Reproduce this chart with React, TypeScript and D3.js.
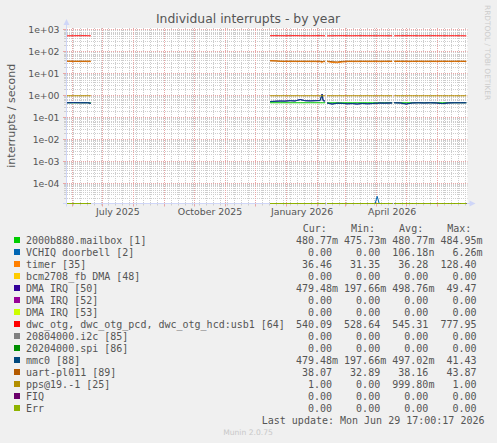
import React from "react";
import * as d3 from "d3";

const TITLE = "Individual interrupts - by year";
const Y_LABEL = "interrupts / second";
const Y_TICKS = [1e3, 1e2, 1e1, 1, 1e-1, 1e-2, 1e-3, 1e-4];
const Y_TICK_LABELS = ["1e+03", "1e+02", "1e+01", "1e+00", "1e-01", "1e-02", "1e-03", "1e-04"];
const X_LABEL_MONTHS = ["2025-07-01T00:00", "2025-10-01T00:00", "2026-01-01T00:00", "2026-04-01T00:00"];
const X_LABELS = ["July 2025", "October 2025", "January 2026", "April 2026"];
const TIME_DOMAIN = ["2025-05-26T17:00", "2026-06-30T17:00"];
const Y_DOMAIN = [1.22e-5, 1233];

const TIMES = [
  "2025-05-26T18:00", "2025-06-02T12:00", "2025-06-09T12:00", "2025-06-16T12:00", "2025-06-19T12:00",
  "2025-06-20T12:00",
  "2025-12-15T12:00", "2025-12-20T12:00", "2025-12-25T12:00", "2025-12-30T12:00", "2026-01-04T12:00",
  "2026-01-09T12:00", "2026-01-14T12:00", "2026-01-19T12:00", "2026-01-24T12:00", "2026-01-29T12:00",
  "2026-02-03T12:00", "2026-02-05T12:00", "2026-02-06T12:00", "2026-02-08T12:00",
  "2026-02-09T12:00",
  "2026-02-10T12:00", "2026-02-15T12:00", "2026-02-20T12:00", "2026-02-25T12:00", "2026-03-02T12:00",
  "2026-03-07T12:00", "2026-03-12T12:00", "2026-03-17T12:00", "2026-03-22T12:00", "2026-03-27T12:00",
  "2026-03-30T12:00", "2026-04-01T12:00", "2026-04-03T12:00", "2026-04-08T12:00", "2026-04-16T12:00",
  "2026-04-17T12:00",
  "2026-04-18T12:00", "2026-04-24T12:00", "2026-04-30T12:00", "2026-05-06T12:00", "2026-05-12T12:00",
  "2026-05-18T12:00", "2026-05-24T12:00", "2026-05-30T12:00", "2026-06-05T12:00", "2026-06-11T12:00",
  "2026-06-17T12:00", "2026-06-23T12:00", "2026-06-29T12:00",
];

const MAILBOX = [
  0.48, 0.48, 0.48, 0.48, 0.48, null,
  0.48, 0.48, 0.48, 0.48, 0.48, 0.48, 0.48, 0.48, 0.48, 0.48, 0.48, 0.48, 0.48, 0.48, null,
  0.48, 0.48, 0.48, 0.48, 0.48, 0.48, 0.48, 0.48, 0.48, 0.48, 0.48, 0.48, 0.48, 0.48, 0.48, null,
  0.48, 0.48, 0.48, 0.48, 0.48, 0.48, 0.48, 0.48, 0.48, 0.48, 0.48, 0.48, 0.48,
];
const VCHIQ = [
  0, 0, 0, 0, 0, null,
  0, 0, 0, 0, 0, 0, 0, 0, 0, 0, 0, 0, 0, 0, null,
  0, 0, 0, 0, 0, 0, 0, 0, 0, 0, 0, 2.6e-5, 0, 0, 0, null,
  0, 0, 0, 0, 0, 0, 0, 0, 0, 0, 0, 0, 0,
];
const TIMER = [
  37.5, 36.5, 36.3, 36.2, 36.0, null,
  40.0, 39.5, 37.0, 36.5, 36.3, 36.2, 36.4, 36.1, 36.2, 36.0, 35.8, 33.0, 35.5, 36.2, null,
  36.3, 33.0, 32.0, 34.5, 36.2, 36.3, 36.0, 36.4, 36.2, 36.1, 36.3, 36.2, 36.0, 36.3, 36.4, null,
  36.5, 36.4, 36.2, 36.3, 36.4, 36.1, 36.3, 36.2, 36.4, 36.5, 36.3, 36.4, 36.46,
];
const ZERO = [
  0, 0, 0, 0, 0, null,
  0, 0, 0, 0, 0, 0, 0, 0, 0, 0, 0, 0, 0, 0, null,
  0, 0, 0, 0, 0, 0, 0, 0, 0, 0, 0, 0, 0, 0, 0, null,
  0, 0, 0, 0, 0, 0, 0, 0, 0, 0, 0, 0, 0,
];
const DMA50 = [
  0.48, 0.49, 0.48, 0.48, 0.45, null,
  0.55, 0.56, 0.58, 0.57, 0.60, 0.58, 0.68, 0.60, 0.59, 0.60, 0.61, 1.20, 0.60, 0.58, null,
  0.47, 0.42, 0.46, 0.45, 0.43, 0.44, 0.42, 0.45, 0.43, 0.44, 0.46, 0.45, 0.47, 0.46, 0.47, null,
  0.48, 0.47, 0.42, 0.47, 0.48, 0.47, 0.48, 0.47, 0.44, 0.47, 0.48, 0.48, 0.48,
];
const DWC = [
  540, 545, 548, 546, 541, null,
  545, 548, 546, 544, 547, 549, 546, 545, 543, 546, 548, 547, 545, 542, null,
  540, 544, 546, 548, 545, 543, 546, 547, 544, 546, 545, 544, 546, 545, 543, null,
  542, 545, 547, 546, 544, 545, 547, 546, 545, 544, 546, 545, 540,
];
const MMC0 = [
  0.48, 0.48, 0.48, 0.48, 0.45, null,
  0.54, 0.56, 0.57, 0.57, 0.59, 0.58, 0.66, 0.59, 0.58, 0.59, 0.60, 1.15, 0.59, 0.57, null,
  0.46, 0.42, 0.45, 0.45, 0.43, 0.44, 0.42, 0.44, 0.43, 0.44, 0.45, 0.45, 0.46, 0.46, 0.47, null,
  0.48, 0.47, 0.42, 0.47, 0.48, 0.47, 0.48, 0.47, 0.44, 0.47, 0.48, 0.48, 0.48,
];
const UART = [
  38.2, 38.1, 38.0, 38.3, 38.1, null,
  39.0, 38.5, 38.2, 38.0, 38.1, 38.2, 38.0, 37.9, 38.1, 38.0, 37.8, 36.0, 37.5, 38.0, null,
  38.1, 36.0, 35.0, 37.0, 38.0, 38.2, 38.1, 38.0, 38.2, 38.1, 38.3, 38.2, 38.0, 38.1, 38.2, null,
  38.3, 38.2, 38.1, 38.0, 38.2, 38.1, 38.0, 38.2, 38.1, 38.0, 38.2, 38.1, 38.07,
];
const PPS = [
  1, 1, 1, 1, 1, null,
  1, 1, 1, 1, 1, 1, 1, 1, 1, 1, 1, 1, 1, 1, null,
  1, 1, 1, 1, 1, 1, 1, 1, 1, 1, 1, 1, 1, 1, 1, null,
  1, 1, 1, 1, 1, 1, 1, 1, 1, 1, 1, 1, 1,
];

const LEGEND_LABELS = [
  "2000b880.mailbox [1]",
  "VCHIQ doorbell [2]",
  "timer [35]",
  "bcm2708_fb DMA [48]",
  "DMA IRQ [50]",
  "DMA IRQ [52]",
  "DMA IRQ [53]",
  "dwc_otg, dwc_otg_pcd, dwc_otg_hcd:usb1 [64]",
  "20804000.i2c [85]",
  "20204000.spi [86]",
  "mmc0 [88]",
  "uart-pl011 [89]",
  "pps@19.-1 [25]",
  "FIQ",
  "Err",
];
const COLORS = [
  "#00CC00", "#0066B3", "#FF8000", "#FFCC00", "#330099", "#990099", "#CCFF00", "#FF0000",
  "#808080", "#008F00", "#00487D", "#B35A00", "#B38F00", "#6B006B", "#8FB300",
];
const SERIES = [MAILBOX, VCHIQ, TIMER, ZERO, DMA50, ZERO, ZERO, DWC, ZERO, ZERO, MMC0, UART, PPS, ZERO, ZERO];
const CUR = ["480.77m", "0.00", "36.46", "0.00", "479.48m", "0.00", "0.00", "540.09", "0.00", "0.00", "479.48m", "38.07", "1.00", "0.00", "0.00"];
const MIN = ["475.73m", "0.00", "31.35", "0.00", "197.66m", "0.00", "0.00", "528.64", "0.00", "0.00", "197.66m", "32.89", "0.00", "0.00", "0.00"];
const AVG = ["480.77m", "106.18n", "36.28", "0.00", "498.76m", "0.00", "0.00", "545.31", "0.00", "0.00", "497.02m", "38.16", "999.80m", "0.00", "0.00"];
const MAX = ["484.95m", "6.26m", "128.40", "0.00", "49.47", "0.00", "0.00", "777.95", "0.00", "0.00", "41.43", "43.87", "1.00", "0.00", "0.00"];
const HEADERS = ["Cur:", "Min:", "Avg:", "Max:"];
const LAST_UPDATE = "Last update: Mon Jun 29 17:00:17 2026";
const MUNIN = "Munin 2.0.75";
const RRD = "RRDTOOL / TOBI OETIKER";

const W = 497;
const H = 443;
const L = 67, R = 467.5, T = 28, B = 203.5;
const SANS = "'DejaVu Sans', sans-serif";
const MONO = "'DejaVu Sans Mono', monospace";
const TXT = "#555555";
const MINOR = "#cdcdcd";
const MAJOR = "#e8a6a6";
const AXIS = "#CFD6F8";

function splitVal(s: string): [string, string] {
  const last = s[s.length - 1];
  if (/[a-zA-Z]/.test(last)) return [s.slice(0, -1), last];
  return [s, ""];
}

export default function App() {
  const x = d3.scaleTime().domain(TIME_DOMAIN.map((d) => new Date(d))).range([L, R]);
  const y = d3.scaleLog().domain(Y_DOMAIN).range([B, T]).clamp(true);
  const yMin = Y_DOMAIN[0];
  const times = TIMES.map((t) => new Date(t));
  const px = (v: number) => Math.round(v - 0.5) + 0.5;

  // horizontal grid
  const minorY: number[] = [];
  const majorY: number[] = [];
  for (let k = -5; k <= 3; k++) {
    for (let m = 1; m <= 9; m++) {
      const v = m * Math.pow(10, k);
      if (v < Y_DOMAIN[0] || v > Y_DOMAIN[1]) continue;
      (m === 1 ? majorY : minorY).push(px(y(v)));
    }
  }
  const [t0, t1] = x.domain();
  const weeks = d3.timeMonday.range(t0, t1).map((d) => px(x(d)));
  const months = d3.timeMonth.range(t0, t1).map((d) => px(x(d)));

  const line = d3
    .line<number | null>()
    .defined((v) => v !== null)
    .x((_, i) => x(times[i]))
    .y((v) => y((v as number) > 0 ? (v as number) : yMin));

  const numEnds = [332, 380.2, 428.4, 476.6];
  const rowBase = (i: number) => 243.5 + 12 * i;

  return (
    <svg
      width={W}
      height={H}
      style={{ position: "absolute", left: 0, top: 0, display: "block" }}
      xmlns="http://www.w3.org/2000/svg"
    >
      <rect x={0} y={0} width={W} height={H} fill="#F0F0F0" />
      <rect x={L} y={T} width={R - L} height={B - T} fill="#FFFFFF" />

      {/* minor grid */}
      {minorY.map((yy, i) => (
        <line key={"my" + i} x1={L} x2={R} y1={yy} y2={yy} stroke={MINOR} strokeDasharray="1,1" />
      ))}
      {weeks.map((xx, i) => (
        <line key={"wx" + i} x1={xx} x2={xx} y1={T} y2={B} stroke={MINOR} strokeDasharray="1,1" />
      ))}
      {/* major grid */}
      {majorY.map((yy, i) => (
        <line key={"My" + i} x1={L} x2={R} y1={yy} y2={yy} stroke={MAJOR} strokeDasharray="1,1" />
      ))}
      {months.map((xx, i) => (
        <line key={"Mx" + i} x1={xx} x2={xx} y1={T} y2={B} stroke={MAJOR} strokeDasharray="1,1" />
      ))}
      {/* ticks */}
      {minorY.map((yy, i) => (
        <line key={"ty" + i} x1={L - 3} x2={L} y1={yy} y2={yy} stroke={MINOR} />
      ))}
      {majorY.map((yy, i) => (
        <line key={"tY" + i} x1={L - 4} x2={L} y1={yy} y2={yy} stroke={MAJOR} />
      ))}
      {weeks.map((xx, i) => (
        <line key={"tx" + i} x1={xx} x2={xx} y1={B} y2={B + 2} stroke={MINOR} />
      ))}
      {months.map((xx, i) => (
        <line key={"tX" + i} x1={xx} x2={xx} y1={B} y2={B + 3} stroke={MAJOR} />
      ))}

      {/* axes */}
      <line x1={L - 0.5} x2={L - 0.5} y1={B + 3} y2={T - 5} stroke={AXIS} />
      <path d={`M${L - 3.5},${T - 3} L${L - 0.5},${T - 9} L${L + 2.5},${T - 3} Z`} fill={AXIS} />
      <line x1={L - 4} x2={R + 3} y1={B} y2={B} stroke={AXIS} />
      <path d={`M${R + 2},${B - 3} L${R + 8},${B} L${R + 2},${B + 3} Z`} fill={AXIS} />

      {/* data */}
      {SERIES.map((s, i) => (
        <path key={"s" + i} d={line(s) || ""} fill="none" stroke={COLORS[i]} strokeWidth={1} />
      ))}

      {/* y tick labels */}
      {Y_TICKS.map((v, i) => (
        <text key={"yl" + i} x={59.5} y={y(v) + 3.4} textAnchor="end" fontFamily={SANS} fontSize={9.3} fill={TXT}>
          {Y_TICK_LABELS[i]}
        </text>
      ))}
      {/* x labels */}
      {X_LABEL_MONTHS.map((m, i) => {
        const d = new Date(m);
        const mid = d3.timeHour.offset(d, 15.5 * 24);
        return (
          <text key={"xl" + i} x={x(mid)} y={214.8} textAnchor="middle" fontFamily={SANS} fontSize={9.4} fill={TXT}>
            {X_LABELS[i]}
          </text>
        );
      })}

      {/* title */}
      <text x={248} y={22.5} textAnchor="middle" fontFamily={SANS} fontSize={12.4} fill={TXT}>
        {TITLE}
      </text>
      {/* y axis label */}
      <text
        transform={`translate(15,${(T + B) / 2}) rotate(-90)`}
        textAnchor="middle"
        fontFamily={SANS}
        fontSize={11}
        fill={TXT}
      >
        {Y_LABEL}
      </text>
      {/* rrdtool watermark */}
      <text
        transform={`translate(484.5,5) rotate(90)`}
        textAnchor="start"
        fontFamily={SANS}
        fontSize={7.4}
        fill="#cccccc"
      >
        {RRD}
      </text>

      {/* legend */}
      {HEADERS.map((h, j) => (
        <text key={"h" + j} x={numEnds[j] - 29.3} y={231.5} fontFamily={MONO} fontSize={10} fill={TXT}>
          {h}
        </text>
      ))}
      {LEGEND_LABELS.map((lab, i) => {
        const by = rowBase(i);
        const cols = [CUR[i], MIN[i], AVG[i], MAX[i]];
        return (
          <g key={"lg" + i}>
            <rect x={14} y={by - 6.5} width={6} height={6} fill={COLORS[i]} />
            <text x={26} y={by} fontFamily={MONO} fontSize={10} fill={TXT}>
              {lab}
            </text>
            {cols.map((c, j) => {
              const [num, suf] = splitVal(c);
              return (
                <g key={"c" + j}>
                  <text x={numEnds[j]} y={by} textAnchor="end" fontFamily={MONO} fontSize={10} fill={TXT}>
                    {num}
                  </text>
                  {suf && (
                    <text x={numEnds[j]} y={by} fontFamily={MONO} fontSize={10} fill={TXT}>
                      {suf}
                    </text>
                  )}
                </g>
              );
            })}
          </g>
        );
      })}
      <text x={484.5} y={rowBase(15)} textAnchor="end" fontFamily={MONO} fontSize={10} fill={TXT}>
        {LAST_UPDATE}
      </text>
      <text x={248} y={435} textAnchor="middle" fontFamily={SANS} fontSize={7.6} fill="#c8c8c8">
        {MUNIN}
      </text>
    </svg>
  );
}
